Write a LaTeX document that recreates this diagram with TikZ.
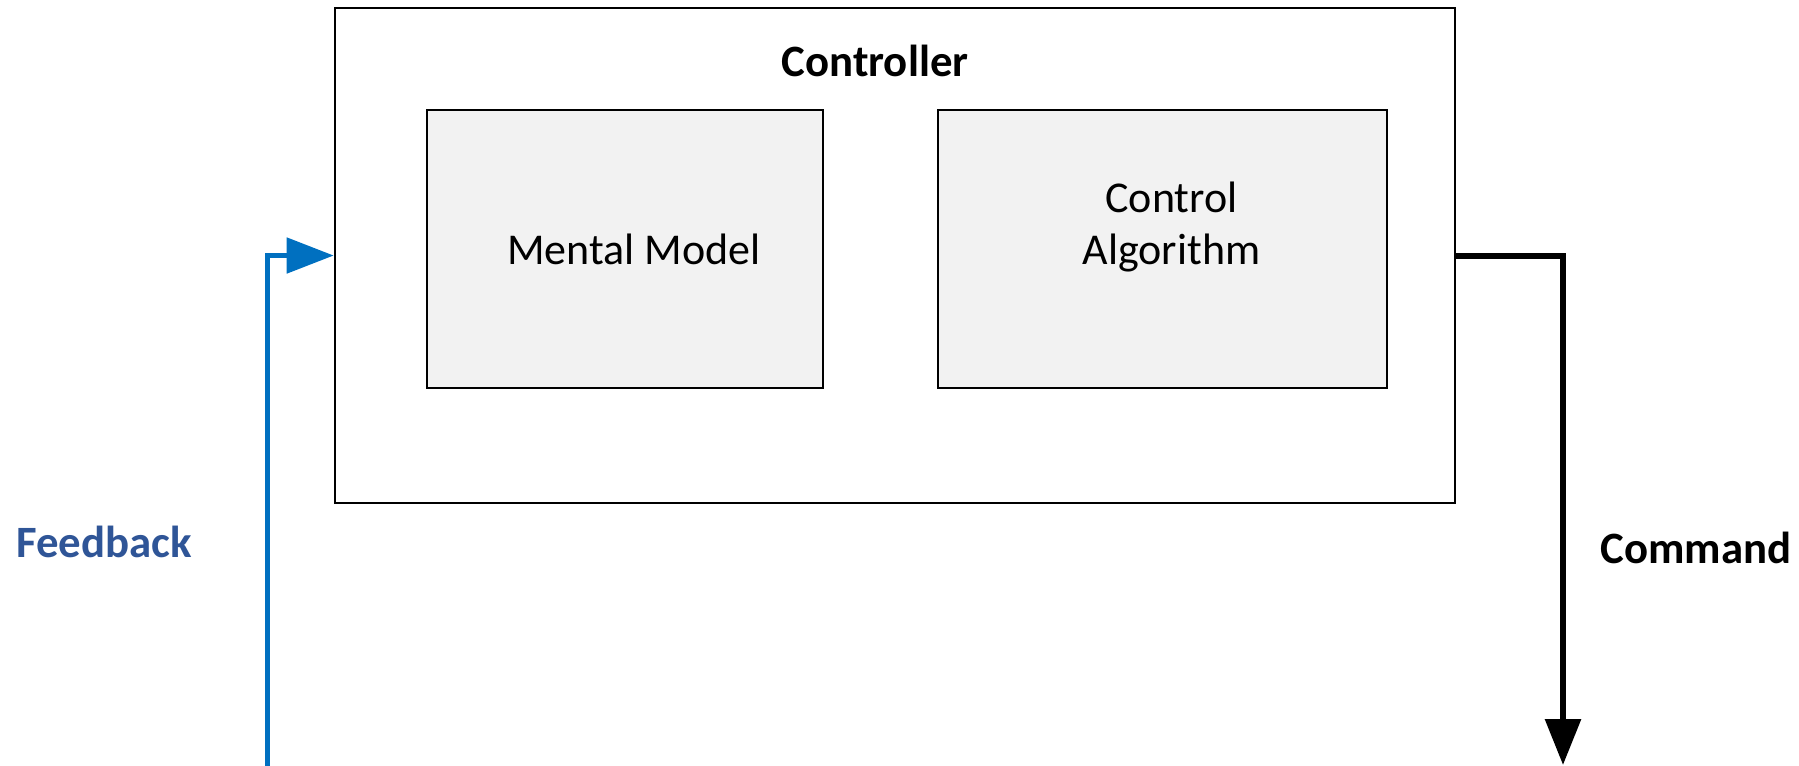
\documentclass[tikz,border=0pt]{standalone}
\usepackage{fontspec}
\setmainfont{Carlito}
\usetikzlibrary{positioning,arrows.meta}
\definecolor{fbline}{HTML}{0070C0}
\definecolor{fbtext}{HTML}{2F5597}
\definecolor{boxfill}{HTML}{F2F2F2}

\begin{document}
\begin{tikzpicture} [
					x=0.25pt,y=-0.25pt,
					every node/.style={font=\fontsize{11}{13}\selectfont},
					outerbox/.style={draw,line width=0.65pt,minimum width=280pt,minimum height=123.75pt,inner sep=0},
					innerbox/.style={draw,fill=boxfill,line width=0.35pt,minimum height=69.5pt,inner sep=0,align=center},
					signal/.style={font=\fontsize{11.2}{13}\selectfont\bfseries},
				]
				\useasboundingbox (0,0) rectangle (1799,765);
				
				\node[outerbox] (controller) at (895,255.5) {};
				\node[signal,anchor=center] (ctltitle) at (875,61) {Controller};
				\node[innerbox,minimum width=99pt] (mental) at (625,249) {\hspace{4.5pt}Mental Model};
				\node[innerbox,minimum width=112.25pt] (algorithm) at (1162.5,249) {\hspace{4.5pt}Control\\\hspace{4.5pt}Algorithm\\[0pt]};
				
				\coordinate (fbin) at (267,766);
				\coordinate (cmdout) at (1563,765);
				
				% feedback into the controller, command out of it
				\draw[fbline,line width=1.25pt,-{Triangle[length=11.75pt,width=8.75pt]}] (fbin) |- (controller.west);
				\draw[line width=1.5pt,-{Triangle[length=11.5pt,width=8.75pt]}] (controller.east) -| (cmdout);
				
				\node[signal,text=fbtext] (feedback) at (104,542) {Feedback};
				\node[signal] (command) at (1696,548) {Command};
				
			\end{tikzpicture}
\end{document}
